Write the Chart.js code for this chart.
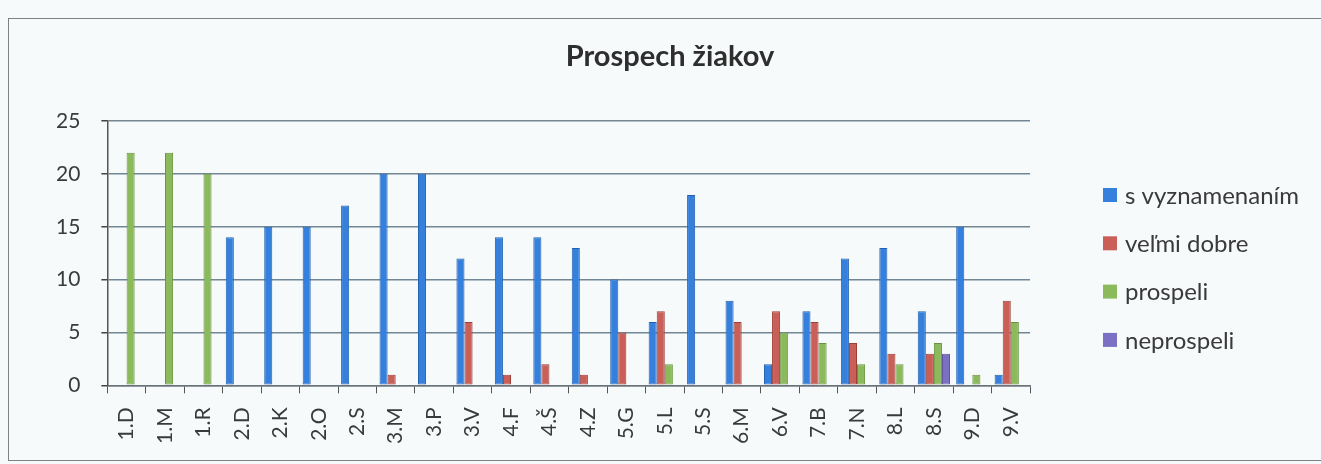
<!DOCTYPE html>
<html>
<head>
<meta charset="utf-8">
<script src="https://cdn.jsdelivr.net/npm/chart.js@4"></script>
<style>
    html, body { margin: 0; padding: 0; background: #f7fafb; overflow: hidden; }
    #wrap { position: relative; width: 1321px; height: 464px; }
    #frame { position: absolute; left: 8px; top: 18px; width: 1400px; height: 441px; border: 1px solid #7d8286; }
    #chart { position: absolute; left: 0; top: 0; }
</style>
</head>
<body>
<div id="wrap">
    <div id="frame"></div>
    <canvas id="chart" width="1321" height="464"></canvas>
</div>
<script>
// Classes (tick labels on the x axis)
const categories = ['1.D', '1.M', '1.R', '2.D', '2.K', '2.O', '2.S', '3.M', '3.P', '3.V', '4.F', '4.Š',
    '4.Z', '5.G', '5.L', '5.S', '6.M', '6.V', '7.B', '7.N', '8.L', '8.S', '9.D', '9.V'];

// Number of pupils per result
const sVyznamenanim = [0, 0, 0, 14, 15, 15, 17, 20, 20, 12, 14, 14, 13, 10, 6, 18, 8, 2, 7, 12, 13, 7, 15, 1];
const velmiDobre = [0, 0, 0, 0, 0, 0, 0, 1, 0, 6, 1, 2, 1, 5, 7, 0, 6, 7, 6, 4, 3, 3, 0, 8];
const prospeli = [22, 22, 20, 0, 0, 0, 0, 0, 0, 0, 0, 0, 0, 0, 2, 0, 0, 5, 4, 2, 2, 4, 1, 6];
const neprospeli = [0, 0, 0, 0, 0, 0, 0, 0, 0, 0, 0, 0, 0, 0, 0, 0, 0, 0, 0, 0, 0, 3, 0, 0];

const yTicks = [0, 5, 10, 15, 20, 25];
const chartTitle = 'Prospech žiakov';

const FONT = 'Lato, "Open Sans", sans-serif';

// Title and legend drawn by hand so they sit where the original ones are
const sideLegend = {
    id: 'sideLegend',
    afterDraw(chart) {
        const ctx = chart.ctx;
        ctx.save();
        ctx.textBaseline = 'middle';

        ctx.font = 'bold 29px ' + FONT;
        ctx.fillStyle = '#2e2e2e';
        ctx.textAlign = 'center';
        ctx.fillText(chartTitle, 670, 57);

        ctx.textAlign = 'left';
        ctx.font = '24px ' + FONT;
        const x = 1103;
        let y = 195;
        chart.data.datasets.forEach(ds => {
            ctx.fillStyle = ds.backgroundColor;
            ctx.fillRect(x, y - 7, 14, 14);
            ctx.fillStyle = '#3a3a3a';
            ctx.fillText(ds.label, x + 22, y + 1);
            y += 48.3;
        });
        ctx.restore();
    }
};

new Chart(document.getElementById('chart'), {
    type: 'bar',
    data: {
        labels: categories,
        datasets: [
            { label: 's vyznamenaním', data: sVyznamenanim, backgroundColor: '#3580dc', borderColor: '#2462b0' },
            { label: 'veľmi dobre', data: velmiDobre, backgroundColor: '#c95f57', borderColor: '#9c3f39' },
            { label: 'prospeli', data: prospeli, backgroundColor: '#8aba5c', borderColor: '#6a9440' },
            { label: 'neprospeli', data: neprospeli, backgroundColor: '#7b70c4', borderColor: '#5a509c' }
        ]
    },
    options: {
        responsive: false,
        animation: false,
        datasets: {
            bar: { categoryPercentage: 0.84, barPercentage: 1.0, borderWidth: 1, borderSkipped: false }
        },
        layout: { padding: { left: 35, right: 291, top: 121, bottom: 6 } },
        plugins: {
            legend: { display: false },
            tooltip: { enabled: false },
            title: { display: false }
        },
        scales: {
            x: {
                grid: { display: true, drawOnChartArea: false, offset: true, tickLength: 8, color: '#555', tickColor: '#555' },
                border: { display: true, color: '#6b7378', width: 1.5 },
                ticks: {
                    color: '#3a3a3a',
                    font: { family: FONT, size: 21 },
                    maxRotation: 90,
                    minRotation: 90,
                    padding: 14,
                    autoSkip: false
                }
            },
            y: {
                min: 0,
                max: 25,
                afterBuildTicks: axis => { axis.ticks = yTicks.map(v => ({ value: v })); },
                grid: { color: 'rgba(80,105,125,0.8)', lineWidth: 1.5, tickLength: 6, tickColor: '#444' },
                border: { display: true, color: '#555', width: 1.5 },
                ticks: {
                    color: '#3a3a3a',
                    font: { family: FONT, size: 21 },
                    padding: 21
                }
            }
        }
    },
    plugins: [sideLegend]
});
</script>
</body>
</html>
